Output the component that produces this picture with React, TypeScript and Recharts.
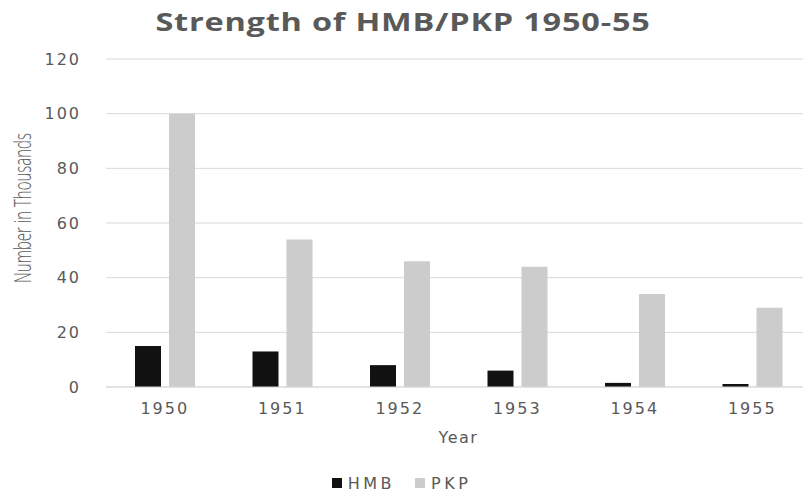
import React from "react";
import { BarChart, Bar, XAxis, YAxis, CartesianGrid, Legend } from "recharts";

const years = ["1950", "1951", "1952", "1953", "1954", "1955"];
const hmb = [15, 13, 8, 6, 1.5, 1.1];
const pkp = [100, 54, 46, 44, 34, 29];
const yTicks = [0, 20, 40, 60, 80, 100, 120];

const data = years.map((y, i) => ({ year: y, HMB: hmb[i], PKP: pkp[i] }));

const TEXT = "#595959";
const FONT = "'DejaVu Sans', sans-serif";

const LegendContent = (props: any) => {
  const items = props.payload || [];
  return (
    <div style={{ height: 20, display: "flex", justifyContent: "center", alignItems: "center", paddingRight: 8 }}>
      {items.map((it: any, i: number) => (
        <div key={it.value} style={{ display: "flex", alignItems: "center", marginRight: i === 0 ? 20 : 0 }}>
          <div style={{ width: 10, height: 10, background: it.color, marginRight: 6 }} />
          <span style={{ fontFamily: FONT, fontSize: 16, color: TEXT, letterSpacing: 3.5 }}>{it.value}</span>
        </div>
      ))}
    </div>
  );
};

export default function App() {
  return (
    <div style={{ position: "absolute", left: 0, top: 0, width: 803, height: 493, overflow: "hidden", background: "#fff" }}>
      <BarChart width={830} height={493} data={data} margin={{ top: 59, right: 19, left: 0, bottom: 0 }} barGap={8} barSize={26}>
        <text
          transform="translate(403,31) scale(1.3,1)"
          x={0}
          y={0}
          textAnchor="middle"
          fontFamily="'Open Sans', sans-serif"
          fontWeight={700}
          fontSize={25}
          fill={TEXT}
          letterSpacing={0.6}
        >
          Strength of HMB/PKP 1950-55
        </text>
        <text
          transform="translate(31,208) scale(1.6,1) rotate(-90)"
          x={0}
          y={0}
          textAnchor="middle"
          fontFamily="'Open Sans', sans-serif"
          fontWeight={300}
          fontSize={15}
          fill={TEXT}
        >
          Number in Thousands
        </text>
        <CartesianGrid vertical={false} stroke="#d9d9d9" />
        <XAxis
          dataKey="year"
          height={86}
          tickLine={false}
          axisLine={{ stroke: "#d9d9d9" }}
          tickMargin={10}
          tick={{ fill: TEXT, fontFamily: FONT, fontSize: 16, letterSpacing: 2 }}
          label={{ value: "Year", position: "insideBottom", offset: 30, fill: TEXT, fontFamily: FONT, fontSize: 16, letterSpacing: 1.5 }}
        />
        <YAxis
          width={106}
          domain={[0, 120]}
          ticks={yTicks}
          interval={0}
          tickLine={false}
          axisLine={false}
          tickMargin={19}
          tick={{ fill: TEXT, fontFamily: FONT, fontSize: 16, letterSpacing: 2 }}
        />
        <Legend verticalAlign="bottom" content={<LegendContent />} />
        <Bar dataKey="HMB" fill="#111111" isAnimationActive={false} />
        <Bar dataKey="PKP" fill="#cccccc" isAnimationActive={false} />
      </BarChart>
    </div>
  );
}
